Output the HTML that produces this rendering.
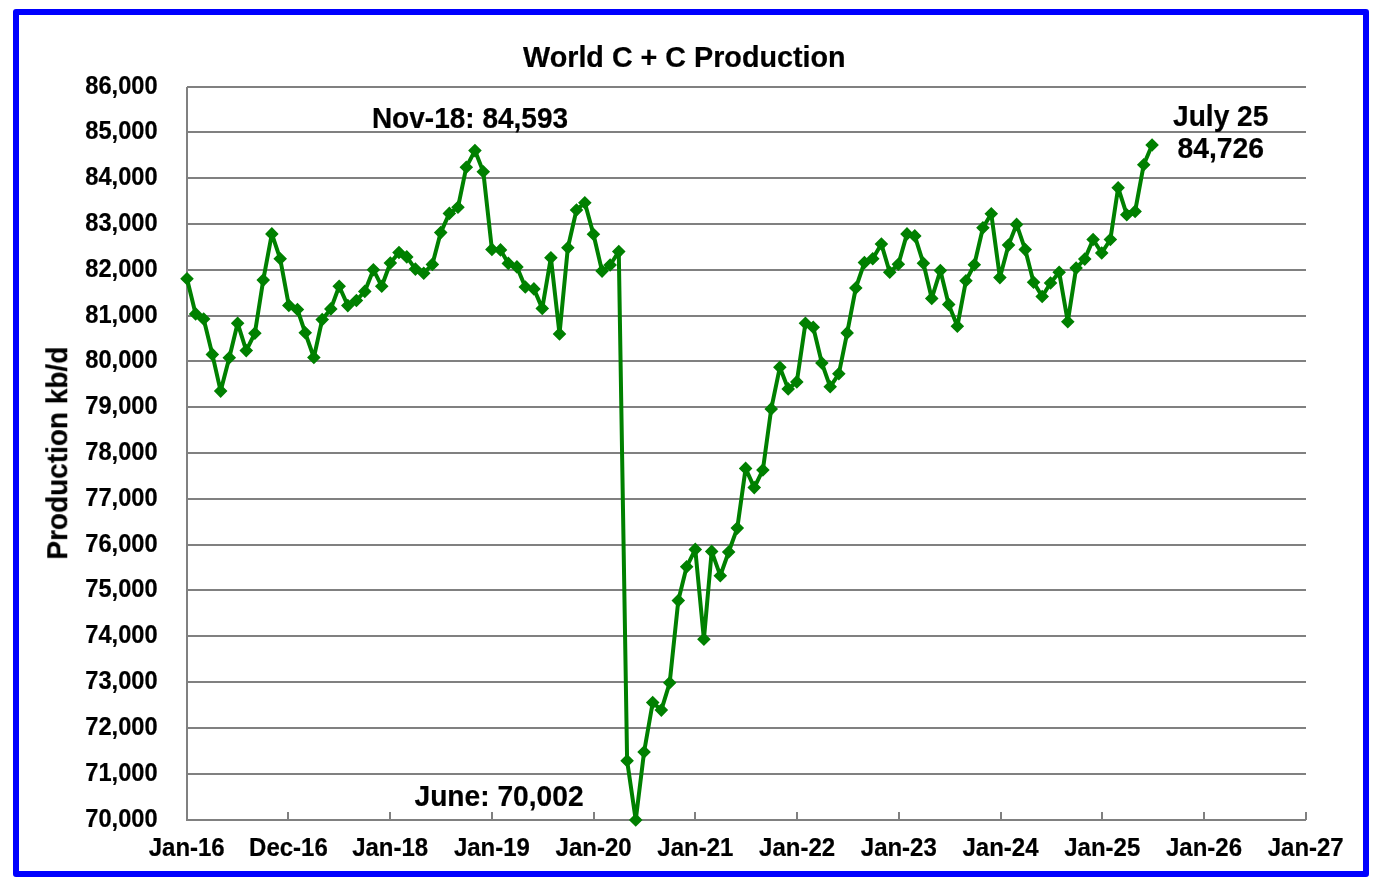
<!DOCTYPE html>
<html><head><meta charset="utf-8"><title>World C + C Production</title>
<style>
svg text{will-change:transform;}
html,body{margin:0;padding:0;background:#fff;width:1378px;height:888px;overflow:hidden;}
body{position:relative;font-family:"Liberation Sans", sans-serif;}
.t24{font-family:"Liberation Sans", sans-serif;font-weight:bold;font-size:24px;fill:#000;stroke:#000;stroke-width:0.2px;}
.t28{font-family:"Liberation Sans", sans-serif;font-weight:bold;font-size:28px;fill:#000;stroke:#000;stroke-width:0.2px;}
</style></head><body>
<svg width="1378" height="888" viewBox="0 0 1378 888" style="position:absolute;left:0;top:0">
<rect x="16" y="12" width="1350" height="862" fill="#fff" stroke="#0000ff" stroke-width="6" stroke-linejoin="round"/>
<path d="M187 87.00H1306M187 132.00H1306M187 178.00H1306M187 224.00H1306M187 270.00H1306M187 316.00H1306M187 361.00H1306M187 407.00H1306M187 453.00H1306M187 499.00H1306M187 545.00H1306M187 590.00H1306M187 636.00H1306M187 682.00H1306M187 728.00H1306M187 774.00H1306" stroke="#808080" stroke-width="2" fill="none"/>
<path d="M187 87V820H1306" stroke="#808080" stroke-width="2" fill="none" stroke-linejoin="miter"/>
<path d="M288.00 820V812M390.00 820V812M492.00 820V812M594.00 820V812M695.00 820V812M797.00 820V812M899.00 820V812M1001.00 820V812M1102.00 820V812M1204.00 820V812M1306.00 820V812" stroke="#808080" stroke-width="2" fill="none"/>
<text x="0" y="0" text-anchor="end" class="t24" transform="translate(157.6 94.40) scale(0.985 1.04)">86,000</text>
<text x="0" y="0" text-anchor="end" class="t24" transform="translate(157.6 139.40) scale(0.985 1.04)">85,000</text>
<text x="0" y="0" text-anchor="end" class="t24" transform="translate(157.6 185.40) scale(0.985 1.04)">84,000</text>
<text x="0" y="0" text-anchor="end" class="t24" transform="translate(157.6 231.40) scale(0.985 1.04)">83,000</text>
<text x="0" y="0" text-anchor="end" class="t24" transform="translate(157.6 277.40) scale(0.985 1.04)">82,000</text>
<text x="0" y="0" text-anchor="end" class="t24" transform="translate(157.6 323.40) scale(0.985 1.04)">81,000</text>
<text x="0" y="0" text-anchor="end" class="t24" transform="translate(157.6 368.40) scale(0.985 1.04)">80,000</text>
<text x="0" y="0" text-anchor="end" class="t24" transform="translate(157.6 414.40) scale(0.985 1.04)">79,000</text>
<text x="0" y="0" text-anchor="end" class="t24" transform="translate(157.6 460.40) scale(0.985 1.04)">78,000</text>
<text x="0" y="0" text-anchor="end" class="t24" transform="translate(157.6 506.40) scale(0.985 1.04)">77,000</text>
<text x="0" y="0" text-anchor="end" class="t24" transform="translate(157.6 552.40) scale(0.985 1.04)">76,000</text>
<text x="0" y="0" text-anchor="end" class="t24" transform="translate(157.6 597.40) scale(0.985 1.04)">75,000</text>
<text x="0" y="0" text-anchor="end" class="t24" transform="translate(157.6 643.40) scale(0.985 1.04)">74,000</text>
<text x="0" y="0" text-anchor="end" class="t24" transform="translate(157.6 689.40) scale(0.985 1.04)">73,000</text>
<text x="0" y="0" text-anchor="end" class="t24" transform="translate(157.6 735.40) scale(0.985 1.04)">72,000</text>
<text x="0" y="0" text-anchor="end" class="t24" transform="translate(157.6 781.40) scale(0.985 1.04)">71,000</text>
<text x="0" y="0" text-anchor="end" class="t24" transform="translate(157.6 827.40) scale(0.985 1.04)">70,000</text>
<text x="0" y="0" text-anchor="middle" class="t24" transform="translate(186.70 855.8) scale(1 1.04)">Jan-16</text>
<text x="0" y="0" text-anchor="middle" class="t24" transform="translate(288.43 855.8) scale(1 1.04)">Dec-16</text>
<text x="0" y="0" text-anchor="middle" class="t24" transform="translate(390.15 855.8) scale(1 1.04)">Jan-18</text>
<text x="0" y="0" text-anchor="middle" class="t24" transform="translate(491.88 855.8) scale(1 1.04)">Jan-19</text>
<text x="0" y="0" text-anchor="middle" class="t24" transform="translate(593.61 855.8) scale(1 1.04)">Jan-20</text>
<text x="0" y="0" text-anchor="middle" class="t24" transform="translate(695.34 855.8) scale(1 1.04)">Jan-21</text>
<text x="0" y="0" text-anchor="middle" class="t24" transform="translate(797.06 855.8) scale(1 1.04)">Jan-22</text>
<text x="0" y="0" text-anchor="middle" class="t24" transform="translate(898.79 855.8) scale(1 1.04)">Jan-23</text>
<text x="0" y="0" text-anchor="middle" class="t24" transform="translate(1000.52 855.8) scale(1 1.04)">Jan-24</text>
<text x="0" y="0" text-anchor="middle" class="t24" transform="translate(1102.25 855.8) scale(1 1.04)">Jan-25</text>
<text x="0" y="0" text-anchor="middle" class="t24" transform="translate(1203.97 855.8) scale(1 1.04)">Jan-26</text>
<text x="0" y="0" text-anchor="middle" class="t24" transform="translate(1305.70 855.8) scale(1 1.04)">Jan-27</text>
<path d="M187.00 278.70 L195.62 313.90 L203.69 319.00 L212.32 354.40 L220.66 391.10 L229.29 357.70 L237.63 323.20 L246.26 350.60 L254.88 333.20 L263.23 280.10 L271.85 233.90 L280.20 258.80 L288.82 305.40 L297.45 309.50 L305.24 332.80 L313.86 357.50 L322.21 319.60 L330.83 308.90 L339.18 286.30 L347.80 305.60 L356.42 300.50 L364.77 291.40 L373.39 269.70 L381.74 286.30 L390.36 263.00 L398.99 252.50 L406.78 256.90 L415.40 269.10 L423.75 273.20 L432.37 264.40 L440.72 232.60 L449.34 213.40 L457.97 207.30 L466.31 167.20 L474.94 150.60 L483.28 171.80 L491.91 249.40 L500.53 249.90 L508.32 263.40 L516.95 266.90 L525.29 287.00 L533.92 288.90 L542.26 308.40 L550.89 257.70 L559.51 333.90 L567.86 247.70 L576.48 210.00 L584.83 202.70 L593.45 234.30 L602.07 271.10 L610.14 265.00 L618.77 251.60 L627.11 760.80 L635.74 820.00 L644.08 752.00 L652.71 702.60 L661.33 710.10 L669.68 682.80 L678.30 600.60 L686.65 566.80 L695.27 549.40 L703.90 639.20 L711.69 551.40 L720.31 575.70 L728.66 552.00 L737.28 528.10 L745.63 468.40 L754.25 487.60 L762.87 470.00 L771.22 408.90 L779.84 367.30 L788.19 388.90 L796.81 381.90 L805.44 323.30 L813.23 327.30 L821.85 363.00 L830.20 386.80 L838.82 373.80 L847.17 332.90 L855.79 288.00 L864.42 262.60 L872.76 258.70 L881.39 244.00 L889.73 272.30 L898.36 264.30 L906.98 233.90 L914.77 235.90 L923.40 263.30 L931.74 298.40 L940.37 270.60 L948.71 304.40 L957.34 326.30 L965.96 280.70 L974.31 264.70 L982.93 227.80 L991.28 213.80 L999.90 277.60 L1008.52 245.10 L1016.59 224.40 L1025.22 249.60 L1033.56 282.30 L1042.19 296.50 L1050.53 283.00 L1059.16 272.20 L1067.78 321.70 L1076.13 268.10 L1084.75 259.10 L1093.10 239.50 L1101.72 253.00 L1110.35 239.50 L1118.14 187.70 L1126.76 214.70 L1135.11 211.40 L1143.73 164.70 L1152.08 145.00" stroke="#008000" stroke-width="4" fill="none" stroke-linejoin="round"/>
<path d="M187.00 271.90L193.80 278.70L187.00 285.50L180.20 278.70ZM195.62 307.10L202.42 313.90L195.62 320.70L188.82 313.90ZM203.69 312.20L210.49 319.00L203.69 325.80L196.89 319.00ZM212.32 347.60L219.12 354.40L212.32 361.20L205.52 354.40ZM220.66 384.30L227.46 391.10L220.66 397.90L213.86 391.10ZM229.29 350.90L236.09 357.70L229.29 364.50L222.49 357.70ZM237.63 316.40L244.43 323.20L237.63 330.00L230.83 323.20ZM246.26 343.80L253.06 350.60L246.26 357.40L239.46 350.60ZM254.88 326.40L261.68 333.20L254.88 340.00L248.08 333.20ZM263.23 273.30L270.03 280.10L263.23 286.90L256.43 280.10ZM271.85 227.10L278.65 233.90L271.85 240.70L265.05 233.90ZM280.20 252.00L287.00 258.80L280.20 265.60L273.40 258.80ZM288.82 298.60L295.62 305.40L288.82 312.20L282.02 305.40ZM297.45 302.70L304.25 309.50L297.45 316.30L290.65 309.50ZM305.24 326.00L312.04 332.80L305.24 339.60L298.44 332.80ZM313.86 350.70L320.66 357.50L313.86 364.30L307.06 357.50ZM322.21 312.80L329.01 319.60L322.21 326.40L315.41 319.60ZM330.83 302.10L337.63 308.90L330.83 315.70L324.03 308.90ZM339.18 279.50L345.98 286.30L339.18 293.10L332.38 286.30ZM347.80 298.80L354.60 305.60L347.80 312.40L341.00 305.60ZM356.42 293.70L363.22 300.50L356.42 307.30L349.62 300.50ZM364.77 284.60L371.57 291.40L364.77 298.20L357.97 291.40ZM373.39 262.90L380.19 269.70L373.39 276.50L366.59 269.70ZM381.74 279.50L388.54 286.30L381.74 293.10L374.94 286.30ZM390.36 256.20L397.16 263.00L390.36 269.80L383.56 263.00ZM398.99 245.70L405.79 252.50L398.99 259.30L392.19 252.50ZM406.78 250.10L413.58 256.90L406.78 263.70L399.98 256.90ZM415.40 262.30L422.20 269.10L415.40 275.90L408.60 269.10ZM423.75 266.40L430.55 273.20L423.75 280.00L416.95 273.20ZM432.37 257.60L439.17 264.40L432.37 271.20L425.57 264.40ZM440.72 225.80L447.52 232.60L440.72 239.40L433.92 232.60ZM449.34 206.60L456.14 213.40L449.34 220.20L442.54 213.40ZM457.97 200.50L464.77 207.30L457.97 214.10L451.17 207.30ZM466.31 160.40L473.11 167.20L466.31 174.00L459.51 167.20ZM474.94 143.80L481.74 150.60L474.94 157.40L468.14 150.60ZM483.28 165.00L490.08 171.80L483.28 178.60L476.48 171.80ZM491.91 242.60L498.71 249.40L491.91 256.20L485.11 249.40ZM500.53 243.10L507.33 249.90L500.53 256.70L493.73 249.90ZM508.32 256.60L515.12 263.40L508.32 270.20L501.52 263.40ZM516.95 260.10L523.75 266.90L516.95 273.70L510.15 266.90ZM525.29 280.20L532.09 287.00L525.29 293.80L518.49 287.00ZM533.92 282.10L540.72 288.90L533.92 295.70L527.12 288.90ZM542.26 301.60L549.06 308.40L542.26 315.20L535.46 308.40ZM550.89 250.90L557.69 257.70L550.89 264.50L544.09 257.70ZM559.51 327.10L566.31 333.90L559.51 340.70L552.71 333.90ZM567.86 240.90L574.66 247.70L567.86 254.50L561.06 247.70ZM576.48 203.20L583.28 210.00L576.48 216.80L569.68 210.00ZM584.83 195.90L591.63 202.70L584.83 209.50L578.03 202.70ZM593.45 227.50L600.25 234.30L593.45 241.10L586.65 234.30ZM602.07 264.30L608.87 271.10L602.07 277.90L595.27 271.10ZM610.14 258.20L616.94 265.00L610.14 271.80L603.34 265.00ZM618.77 244.80L625.57 251.60L618.77 258.40L611.97 251.60ZM627.11 754.00L633.91 760.80L627.11 767.60L620.31 760.80ZM635.74 813.20L642.54 820.00L635.74 826.80L628.94 820.00ZM644.08 745.20L650.88 752.00L644.08 758.80L637.28 752.00ZM652.71 695.80L659.51 702.60L652.71 709.40L645.91 702.60ZM661.33 703.30L668.13 710.10L661.33 716.90L654.53 710.10ZM669.68 676.00L676.48 682.80L669.68 689.60L662.88 682.80ZM678.30 593.80L685.10 600.60L678.30 607.40L671.50 600.60ZM686.65 560.00L693.45 566.80L686.65 573.60L679.85 566.80ZM695.27 542.60L702.07 549.40L695.27 556.20L688.47 549.40ZM703.90 632.40L710.70 639.20L703.90 646.00L697.10 639.20ZM711.69 544.60L718.49 551.40L711.69 558.20L704.89 551.40ZM720.31 568.90L727.11 575.70L720.31 582.50L713.51 575.70ZM728.66 545.20L735.46 552.00L728.66 558.80L721.86 552.00ZM737.28 521.30L744.08 528.10L737.28 534.90L730.48 528.10ZM745.63 461.60L752.43 468.40L745.63 475.20L738.83 468.40ZM754.25 480.80L761.05 487.60L754.25 494.40L747.45 487.60ZM762.87 463.20L769.67 470.00L762.87 476.80L756.07 470.00ZM771.22 402.10L778.02 408.90L771.22 415.70L764.42 408.90ZM779.84 360.50L786.64 367.30L779.84 374.10L773.04 367.30ZM788.19 382.10L794.99 388.90L788.19 395.70L781.39 388.90ZM796.81 375.10L803.61 381.90L796.81 388.70L790.01 381.90ZM805.44 316.50L812.24 323.30L805.44 330.10L798.64 323.30ZM813.23 320.50L820.03 327.30L813.23 334.10L806.43 327.30ZM821.85 356.20L828.65 363.00L821.85 369.80L815.05 363.00ZM830.20 380.00L837.00 386.80L830.20 393.60L823.40 386.80ZM838.82 367.00L845.62 373.80L838.82 380.60L832.02 373.80ZM847.17 326.10L853.97 332.90L847.17 339.70L840.37 332.90ZM855.79 281.20L862.59 288.00L855.79 294.80L848.99 288.00ZM864.42 255.80L871.22 262.60L864.42 269.40L857.62 262.60ZM872.76 251.90L879.56 258.70L872.76 265.50L865.96 258.70ZM881.39 237.20L888.19 244.00L881.39 250.80L874.59 244.00ZM889.73 265.50L896.53 272.30L889.73 279.10L882.93 272.30ZM898.36 257.50L905.16 264.30L898.36 271.10L891.56 264.30ZM906.98 227.10L913.78 233.90L906.98 240.70L900.18 233.90ZM914.77 229.10L921.57 235.90L914.77 242.70L907.97 235.90ZM923.40 256.50L930.20 263.30L923.40 270.10L916.60 263.30ZM931.74 291.60L938.54 298.40L931.74 305.20L924.94 298.40ZM940.37 263.80L947.17 270.60L940.37 277.40L933.57 270.60ZM948.71 297.60L955.51 304.40L948.71 311.20L941.91 304.40ZM957.34 319.50L964.14 326.30L957.34 333.10L950.54 326.30ZM965.96 273.90L972.76 280.70L965.96 287.50L959.16 280.70ZM974.31 257.90L981.11 264.70L974.31 271.50L967.51 264.70ZM982.93 221.00L989.73 227.80L982.93 234.60L976.13 227.80ZM991.28 207.00L998.08 213.80L991.28 220.60L984.48 213.80ZM999.90 270.80L1006.70 277.60L999.90 284.40L993.10 277.60ZM1008.52 238.30L1015.32 245.10L1008.52 251.90L1001.72 245.10ZM1016.59 217.60L1023.39 224.40L1016.59 231.20L1009.79 224.40ZM1025.22 242.80L1032.02 249.60L1025.22 256.40L1018.42 249.60ZM1033.56 275.50L1040.36 282.30L1033.56 289.10L1026.76 282.30ZM1042.19 289.70L1048.99 296.50L1042.19 303.30L1035.39 296.50ZM1050.53 276.20L1057.33 283.00L1050.53 289.80L1043.73 283.00ZM1059.16 265.40L1065.96 272.20L1059.16 279.00L1052.36 272.20ZM1067.78 314.90L1074.58 321.70L1067.78 328.50L1060.98 321.70ZM1076.13 261.30L1082.93 268.10L1076.13 274.90L1069.33 268.10ZM1084.75 252.30L1091.55 259.10L1084.75 265.90L1077.95 259.10ZM1093.10 232.70L1099.90 239.50L1093.10 246.30L1086.30 239.50ZM1101.72 246.20L1108.52 253.00L1101.72 259.80L1094.92 253.00ZM1110.35 232.70L1117.15 239.50L1110.35 246.30L1103.55 239.50ZM1118.14 180.90L1124.94 187.70L1118.14 194.50L1111.34 187.70ZM1126.76 207.90L1133.56 214.70L1126.76 221.50L1119.96 214.70ZM1135.11 204.60L1141.91 211.40L1135.11 218.20L1128.31 211.40ZM1143.73 157.90L1150.53 164.70L1143.73 171.50L1136.93 164.70ZM1152.08 138.20L1158.88 145.00L1152.08 151.80L1145.28 145.00Z" fill="#008000"/>
<text x="0" y="0" class="t28" transform="translate(523.10 66.80) scale(1.0261 1.04)">World C + C Production</text>
<text x="0" y="0" class="t28" transform="translate(371.90 127.90) scale(1.0005 1.04)">Nov-18: 84,593</text>
<text x="0" y="0" class="t28" transform="translate(1173.00 125.90) scale(1.0048 1.04)">July 25</text>
<text x="0" y="0" class="t28" transform="translate(1177.49 157.70) scale(1.0120 1.04)">84,726</text>
<text x="0" y="0" class="t28" transform="translate(414.50 805.80) scale(1.0066 1.04)">June: 70,002</text>
<text x="0" y="0" text-anchor="middle" class="t28" transform="translate(67.3 453.15) rotate(-90) scale(1 1.04)">Production kb/d</text>
</svg>
</body></html>
